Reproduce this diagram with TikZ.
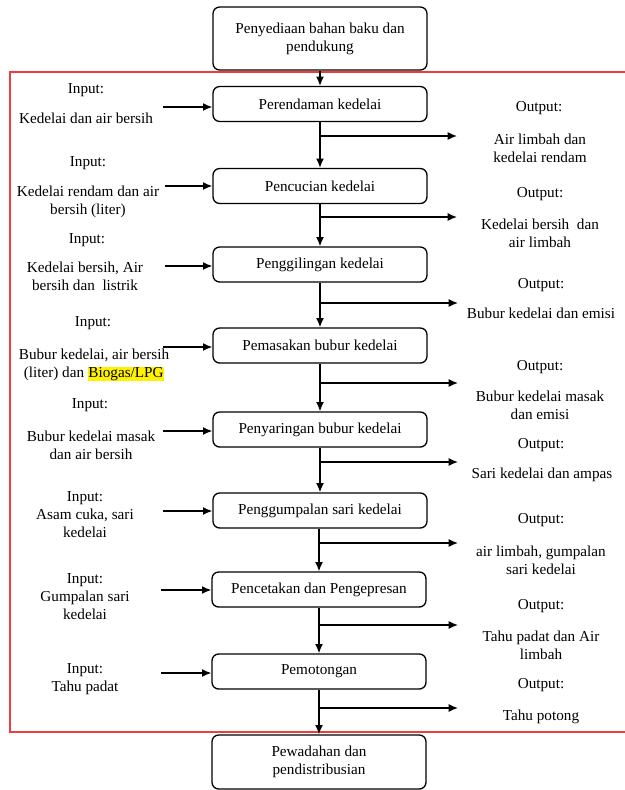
\documentclass[tikz,border=0pt]{standalone}
\usepackage{fontspec}
\setmainfont{Liberation Serif}
\usetikzlibrary{arrows.meta}
\definecolor{framered}{RGB}{236,62,62}
\newcommand{\highlit}[1]{{\setlength{\fboxsep}{0.4pt}\colorbox{yellow}{#1}}}

\begin{document}
\begin{tikzpicture}[x=0.75pt,y=-0.75pt,
	proc/.style={draw,line width=1pt,rounded corners=5pt,minimum width=160.5pt,minimum height=26.25pt,align=center,font=\fontsize{11.4}{13.5}\selectfont},
	txt/.style={align=center,inner sep=0pt,font=\fontsize{11.4}{13.5}\selectfont},
	>={Latex[length=7pt,width=6pt]}]
	\useasboundingbox (0,0) rectangle (625,790);
	\draw [framered,line width=1.1pt] (625,72) -- (10,72) -- (10,732) -- (625,732);
	% process chain
	\node [proc,minimum height=47.25pt] (sedia) at (320,38.5) {Penyediaan bahan baku dan\\pendukung};
	\node [proc] (rendam) at (320,104) {Perendaman kedelai};
	\node [proc] (cuci) at (320,186) {Pencucian kedelai};
	\node [proc] (giling) at (320,264.5) {Penggilingan kedelai};
	\node [proc] (masak) at (320,345.5) {Pemasakan bubur kedelai};
	\node [proc] (saring) at (320,429.5) {Penyaringan bubur kedelai};
	\node [proc] (gumpal) at (320,510.5) {Penggumpalan sari kedelai};
	\node [proc] (cetak) at (319,589.5) {Pencetakan dan Pengepresan};
	\node [proc] (potong) at (319,671.5) {Pemotongan};
	\node [proc,minimum height=40.5pt] (wadah) at (319,762) {Pewadahan dan\\pendistribusian};
	\draw [->,line width=1pt] (sedia) -- (rendam);
	\draw [->,line width=1pt] (rendam) -- (cuci);
	\draw [->,line width=1pt] (cuci) -- (giling);
	\draw [->,line width=1pt] (giling) -- (masak);
	\draw [->,line width=1pt] (masak) -- (saring);
	\draw [->,line width=1pt] (saring) -- (gumpal);
	\draw [->,line width=1pt] (gumpal.south -| cetak) -- (cetak);
	\draw [->,line width=1pt] (cetak) -- (potong);
	\draw [->,line width=1pt] (potong) -- (wadah);
	% inputs
	\node [txt] (in1lab) at (86,90) {Input:};
	\node [txt] (in1) at (86,118) {Kedelai dan air bersih};
	\node [txt] (in2lab) at (88,163) {Input:};
	\node [txt] (in2) at (88,202) {Kedelai rendam dan air\\bersih (liter)};
	\node [txt] (in3lab) at (87,240) {Input:};
	\node [txt] (in3) at (85,276) {Kedelai bersih, Air\\bersih dan\ \ listrik};
	\node [txt] (in4lab) at (93,323) {Input:};
	\node [txt] (in4) at (94,365) {Bubur kedelai, air bersih\\(liter) dan \highlit{Biogas/LPG}};
	\node [txt] (in5lab) at (90,405) {Input:};
	\node [txt] (in5) at (91,445) {Bubur kedelai masak\\dan air bersih};
	\node [txt] (in6) at (85,515) {Input:\\Asam cuka, sari\\kedelai};
	\node [txt] (in7) at (85,597) {Input:\\Gumpalan sari\\kedelai};
	\node [txt] (in8) at (85,679) {Input:\\Tahu padat};
	\coordinate (s1) at (163,107);
	\coordinate (s2) at (165,186);
	\coordinate (s3) at (165,266);
	\coordinate (s4) at (163,347);
	\coordinate (s5) at (163,431);
	\coordinate (s6) at (163,511);
	\coordinate (s7) at (161,590);
	\coordinate (s8) at (161,673);
	\draw [->,line width=1pt] (s1) -- (s1 -| rendam.west);
	\draw [->,line width=1pt] (s2) -- (s2 -| cuci.west);
	\draw [->,line width=1pt] (s3) -- (s3 -| giling.west);
	\draw [->,line width=1pt] (s4) -- (s4 -| masak.west);
	\draw [->,line width=1pt] (s5) -- (s5 -| saring.west);
	\draw [->,line width=1pt] (s6) -- (s6 -| gumpal.west);
	\draw [->,line width=1pt] (s7) -- (s7 -| cetak.west);
	\draw [->,line width=1pt] (s8) -- (s8 -| potong.west);
	% outputs
	\node [txt] (out1lab) at (539,108) {Output:};
	\node [txt] (out1) at (540,148) {Air limbah dan\\kedelai rendam};
	\node [txt] (out2lab) at (540,194) {Output:};
	\node [txt] (out2) at (540,233) {Kedelai bersih\ \ dan\\air limbah};
	\node [txt] (out3lab) at (541,285) {Output:};
	\node [txt] (out3) at (541,313) {Bubur kedelai dan emisi};
	\node [txt] (out4lab) at (540,367) {Output:};
	\node [txt] (out4) at (540,405) {Bubur kedelai masak\\dan emisi};
	\node [txt] (out5lab) at (541,445) {Output:};
	\node [txt] (out5) at (542,475) {Sari kedelai dan ampas};
	\node [txt] (out6lab) at (541,520) {Output:};
	\node [txt] (out6) at (541,560) {air limbah, gumpalan\\sari kedelai};
	\node [txt] (out7lab) at (541,606) {Output:};
	\node [txt] (out7) at (541,645) {Tahu padat dan Air\\limbah};
	\node [txt] (out8lab) at (541,685) {Output:};
	\node [txt] (out8) at (541,717) {Tahu potong};
	\coordinate (e1) at (457,136);
	\coordinate (e2) at (457,217);
	\coordinate (e3) at (458,303);
	\coordinate (e4) at (458,383);
	\coordinate (e5) at (458,462);
	\coordinate (e6) at (458,543);
	\coordinate (e7) at (458,625);
	\coordinate (e8) at (458,708);
	\draw [->,line width=1pt] (e1 -| rendam) -- (e1);
	\draw [->,line width=1pt] (e2 -| cuci) -- (e2);
	\draw [->,line width=1pt] (e3 -| giling) -- (e3);
	\draw [->,line width=1pt] (e4 -| masak) -- (e4);
	\draw [->,line width=1pt] (e5 -| saring) -- (e5);
	\draw [->,line width=1pt] (e6 -| gumpal) -- (e6);
	\draw [->,line width=1pt] (e7 -| cetak) -- (e7);
	\draw [->,line width=1pt] (e8 -| potong) -- (e8);
\end{tikzpicture}
\end{document}
